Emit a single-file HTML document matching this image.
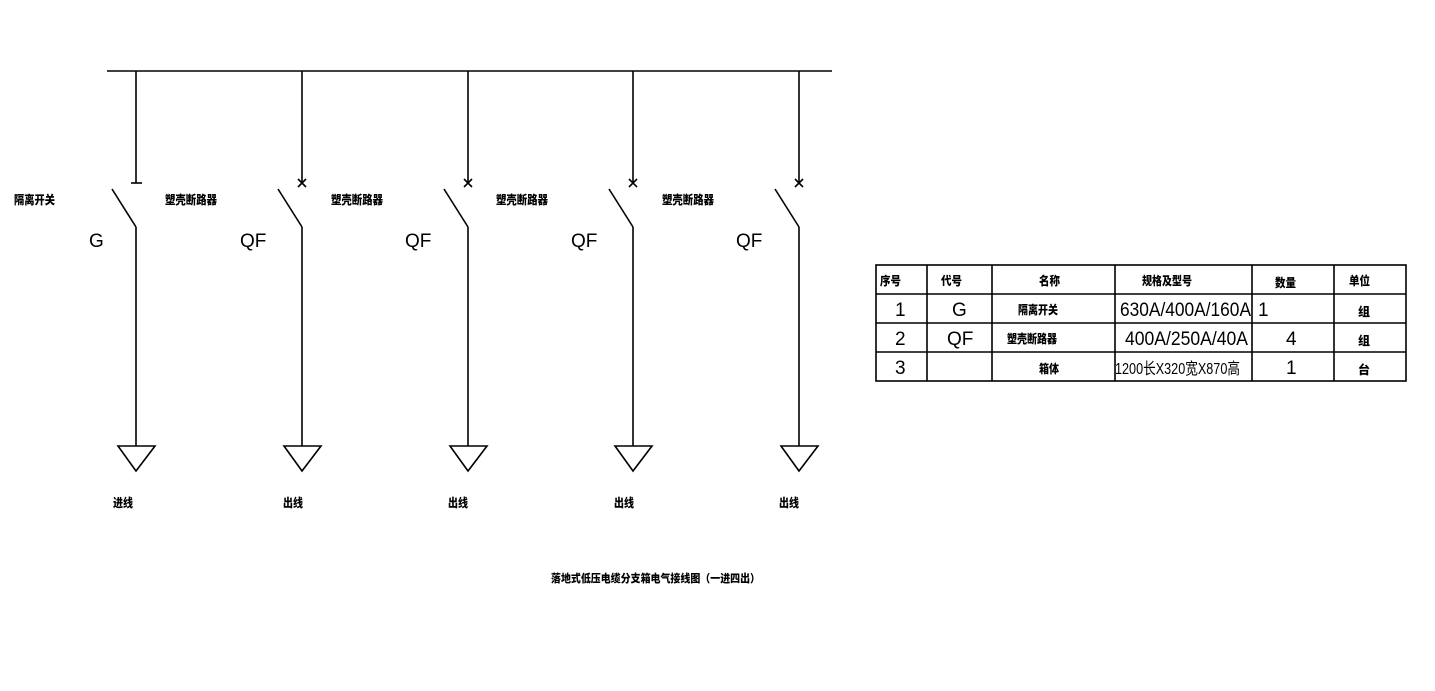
<!DOCTYPE html>
<html><head><meta charset="utf-8"><style>
html,body{margin:0;padding:0;background:#fff;}
svg{display:block}
.cj{font-family:"Liberation Sans","Noto Sans CJK SC",sans-serif;font-weight:900;fill:#000}
.lt{font-family:"Liberation Sans",sans-serif;fill:#000}
</style></head><body>
<svg width="1435" height="691" viewBox="0 0 1435 691" xmlns="http://www.w3.org/2000/svg">
<g stroke="#000" stroke-width="1.6" fill="none">
<line x1="107" y1="71" x2="832" y2="71"/>
<line x1="136" y1="71" x2="136" y2="183"/>
<line x1="131" y1="183" x2="142" y2="183"/>
<line x1="112" y1="189" x2="136" y2="227"/>
<line x1="136" y1="227" x2="136" y2="446"/>
<polygon points="118,446 155,446 136,471"/>
<g id="b">
<line x1="302" y1="71" x2="302" y2="183"/>
<line x1="298" y1="179" x2="306" y2="187"/>
<line x1="306" y1="179" x2="298" y2="187"/>
<line x1="278" y1="189" x2="302" y2="227"/>
<line x1="302" y1="227" x2="302" y2="446"/>
<polygon points="284,446 321,446 302,471"/>
</g>
<use href="#b" x="166"/>
<use href="#b" x="331"/>
<use href="#b" x="497"/>
<rect x="876" y="265" width="530" height="116"/>
<line x1="876" y1="294" x2="1406" y2="294"/>
<line x1="876" y1="323" x2="1406" y2="323"/>
<line x1="876" y1="352" x2="1406" y2="352"/>
<line x1="927" y1="265" x2="927" y2="381"/>
<line x1="992" y1="265" x2="992" y2="381"/>
<line x1="1115" y1="265" x2="1115" y2="381"/>
<line x1="1252" y1="265" x2="1252" y2="381"/>
<line x1="1334" y1="265" x2="1334" y2="381"/>
</g>
<g class="cj" font-size="12" lengthAdjust="spacingAndGlyphs">
<text x="14" y="204" textLength="41" lengthAdjust="spacingAndGlyphs">隔离开关</text>
<text x="165" y="204" textLength="52" lengthAdjust="spacingAndGlyphs">塑壳断路器</text>
<text x="331" y="204" textLength="52" lengthAdjust="spacingAndGlyphs">塑壳断路器</text>
<text x="496" y="204" textLength="52" lengthAdjust="spacingAndGlyphs">塑壳断路器</text>
<text x="662" y="204" textLength="52" lengthAdjust="spacingAndGlyphs">塑壳断路器</text>
<text x="113" y="507" textLength="20" lengthAdjust="spacingAndGlyphs">进线</text>
<text x="283" y="507" textLength="20" lengthAdjust="spacingAndGlyphs">出线</text>
<text x="448" y="507" textLength="20" lengthAdjust="spacingAndGlyphs">出线</text>
<text x="614" y="507" textLength="20" lengthAdjust="spacingAndGlyphs">出线</text>
<text x="779" y="507" textLength="20" lengthAdjust="spacingAndGlyphs">出线</text>
<text x="551" y="582" font-size="11" textLength="209" lengthAdjust="spacingAndGlyphs">落地式低压电缆分支箱电气接线图（一进四出）</text>
<text x="880" y="285" textLength="21" lengthAdjust="spacingAndGlyphs">序号</text>
<text x="941" y="285" textLength="21" lengthAdjust="spacingAndGlyphs">代号</text>
<text x="1039" y="285" textLength="21" lengthAdjust="spacingAndGlyphs">名称</text>
<text x="1142" y="285" textLength="50" lengthAdjust="spacingAndGlyphs">规格及型号</text>
<text x="1275" y="287" textLength="21" lengthAdjust="spacingAndGlyphs">数量</text>
<text x="1349" y="285" textLength="21" lengthAdjust="spacingAndGlyphs">单位</text>
<text x="1018" y="314" textLength="40" lengthAdjust="spacingAndGlyphs">隔离开关</text>
<text x="1007" y="343" textLength="50" lengthAdjust="spacingAndGlyphs">塑壳断路器</text>
<text x="1039" y="373" textLength="20" lengthAdjust="spacingAndGlyphs">箱体</text>
<text x="1358" y="316">组</text>
<text x="1358" y="345">组</text>
<text x="1358" y="374">台</text>
</g>
<g class="lt" font-size="19">
<text x="89" y="247">G</text>
<text x="240" y="247">QF</text>
<text x="405" y="247">QF</text>
<text x="571" y="247">QF</text>
<text x="736" y="247">QF</text>
<text x="895" y="316">1</text>
<text x="895" y="345">2</text>
<text x="895" y="374">3</text>
<text x="952" y="316">G</text>
<text x="947" y="345">QF</text>
<text x="1120" y="316" textLength="131" lengthAdjust="spacingAndGlyphs">630A/400A/160A</text>
<text x="1258" y="316">1</text>
<text x="1125" y="345" textLength="123" lengthAdjust="spacingAndGlyphs">400A/250A/40A</text>
<text x="1286" y="345">4</text>
<text x="1286" y="374">1</text>
<text x="1115" y="374" font-size="16" textLength="125" lengthAdjust="spacingAndGlyphs">1200长X320宽X870高</text>
</g>
</svg>
</body></html>
